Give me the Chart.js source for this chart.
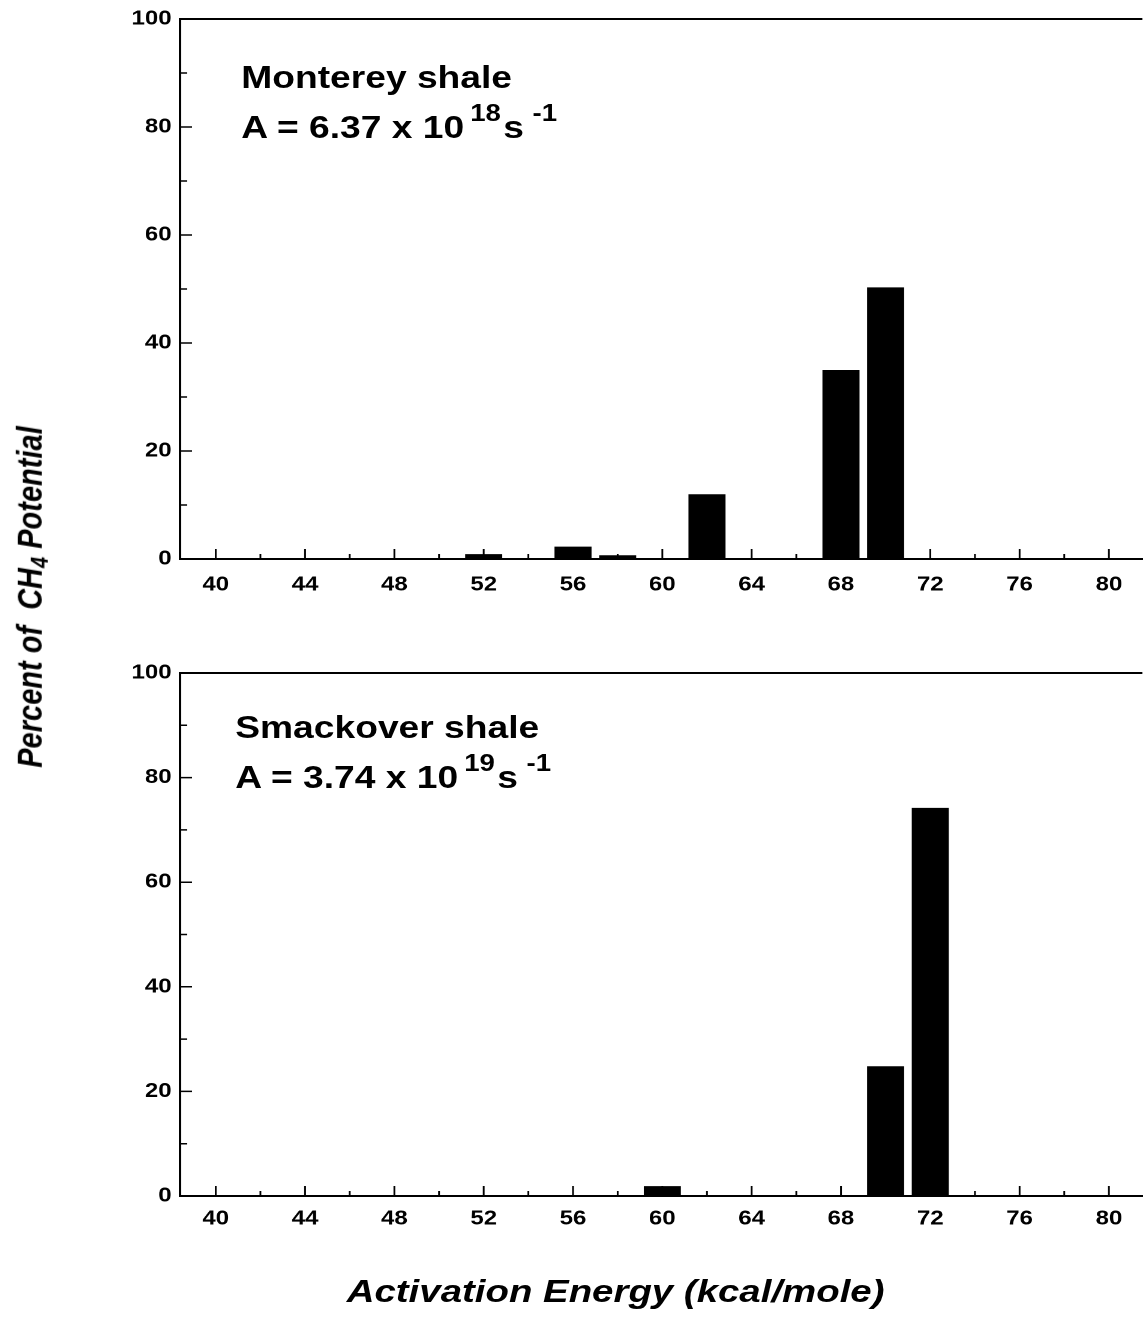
<!DOCTYPE html>
<html>
<head>
<meta charset="utf-8">
<script src="https://cdn.jsdelivr.net/npm/chart.js@4.4.1/dist/chart.umd.min.js"></script>
<style>
  html, body { margin: 0; padding: 0; background: #fff; overflow: hidden; }
  /* the scanned figure is stretched about 1.2x horizontally, so the whole page is drawn narrow and stretched */
  #page { position: absolute; left: 0; top: 0; width: 954px; height: 1322px;
          transform: scaleX(1.2); transform-origin: 0 0;
          font-family: "Liberation Sans", Arial, sans-serif; color: #000; }
  .panel { position: absolute; left: 0; }
  .note { position: absolute; font-weight: bold; font-size: 31px; line-height: 50px; white-space: nowrap; }
  .note .sup { position: relative; top: -17px; font-size: 23px; }
  #ytitle { position: absolute; left: 27px; top: 597px; transform: translate(-50%, -50%) rotate(-90deg);
            font-weight: bold; font-style: italic; font-size: 29px; white-space: nowrap; }
  #ytitle sub { font-size: 20px; vertical-align: -5px; }
  #xtitle { position: absolute; left: 513px; top: 1275px; transform: translateX(-50%);
            font-weight: bold; font-style: italic; font-size: 32px; line-height: 32px; white-space: nowrap; }
</style>
</head>
<body>
<div id="page">
  <div class="panel" style="top:0px"><canvas id="topChart" width="954" height="600"></canvas></div>
  <div class="panel" style="top:654px"><canvas id="bottomChart" width="954" height="586"></canvas></div>

  <div class="note" style="left:201px; top:53px">Monterey shale<br>A = 6.37 x 10<span class="sup" style="margin-left:5px">18</span><span style="margin-left:2px">s</span><span class="sup" style="margin-left:7px">-1</span></div>
  <div class="note" style="left:196px; top:703px">Smackover shale<br>A = 3.74 x 10<span class="sup" style="margin-left:5px">19</span><span style="margin-left:2px">s</span><span class="sup" style="margin-left:7px">-1</span></div>

  <div id="ytitle">Percent of&nbsp; CH<sub>4</sub> Potential</div>
  <div id="xtitle">Activation Energy (kcal/mole)</div>
</div>

<script>
// Monterey shale
const monterey_energy = [52, 56, 58, 62, 68, 70];
const monterey_percent = [0.9, 2.3, 0.7, 12, 35, 50.3];

// Smackover shale
const smackover_energy = [60, 70, 72];
const smackover_percent = [1.9, 24.8, 74.2];

const energy_min = 38.4;
const energy_max = 81.5;

const tickFont = { family: '"Liberation Sans", Arial, sans-serif', size: 20, weight: 'bold' };

// inward tick marks and the top frame line
const tickMarks = {
    id: 'tickMarks',
    afterDatasetsDraw(chart) {
        const { ctx, chartArea, scales } = chart;
        const x = scales.x, y = scales.y;
        ctx.save();
        ctx.strokeStyle = '#000';
        ctx.lineWidth = 1.5;
        ctx.beginPath();
        x.ticks.forEach(t => {
            if (t.value < x.min || t.value > x.max) return;
            const px = x.getPixelForValue(t.value);
            const len = Math.round(t.value) % 4 === 0 ? 10 : 5;
            ctx.moveTo(px, chartArea.bottom);
            ctx.lineTo(px, chartArea.bottom - len);
        });
        y.ticks.forEach(t => {
            const py = y.getPixelForValue(t.value);
            const len = Math.round(t.value) % 20 === 0 ? 10 : 6;
            ctx.moveTo(chartArea.left, py);
            ctx.lineTo(chartArea.left + len, py);
        });
        ctx.stroke();
        ctx.lineWidth = 2;
        ctx.beginPath();
        ctx.moveTo(chartArea.left, chartArea.top);
        ctx.lineTo(chartArea.right, chartArea.top);
        ctx.stroke();
        ctx.restore();
    }
};

function plotSpectrum(canvas, energies, percents, xAxisHeight, labelPad) {
    const points = energies.map((e, i) => ({ x: e, y: percents[i] }));
    new Chart(canvas, {
        type: 'bar',
        data: {
            datasets: [{
                data: points,
                backgroundColor: '#000',
                borderWidth: 0,
                barPercentage: 0.83,
                categoryPercentage: 1.0
            }]
        },
        options: {
            responsive: false,
            animation: false,
            devicePixelRatio: 2,
            layout: { padding: { top: 18, right: 2, left: 0, bottom: 0 } },
            plugins: { legend: { display: false }, tooltip: { enabled: false } },
            scales: {
                x: {
                    type: 'linear',
                    offset: false,
                    min: energy_min,
                    max: energy_max,
                    grid: { display: false, drawTicks: false, offset: false },
                    border: { display: true, color: '#000', width: 2 },
                    ticks: {
                        stepSize: 2,
                        includeBounds: false,
                        autoSkip: false,
                        maxRotation: 0,
                        padding: labelPad,
                        color: '#000',
                        font: tickFont,
                        callback: v => Math.round(v) % 4 === 0 ? Math.round(v) : ''
                    },
                    afterFit: s => { s.height = xAxisHeight; }
                },
                y: {
                    min: 0,
                    max: 100,
                    grid: { display: false, drawTicks: false },
                    border: { display: true, color: '#000', width: 2 },
                    ticks: {
                        stepSize: 10,
                        autoSkip: false,
                        padding: 7,
                        color: '#000',
                        font: tickFont,
                        callback: v => Math.round(v) % 20 === 0 ? Math.round(v) : ''
                    },
                    afterFit: s => { s.width = 150; }
                }
            }
        },
        plugins: [tickMarks]
    });
}

plotSpectrum(document.getElementById('topChart'), monterey_energy, monterey_percent, 41, 14);
plotSpectrum(document.getElementById('bottomChart'), smackover_energy, smackover_percent, 44, 11);
</script>
</body>
</html>
